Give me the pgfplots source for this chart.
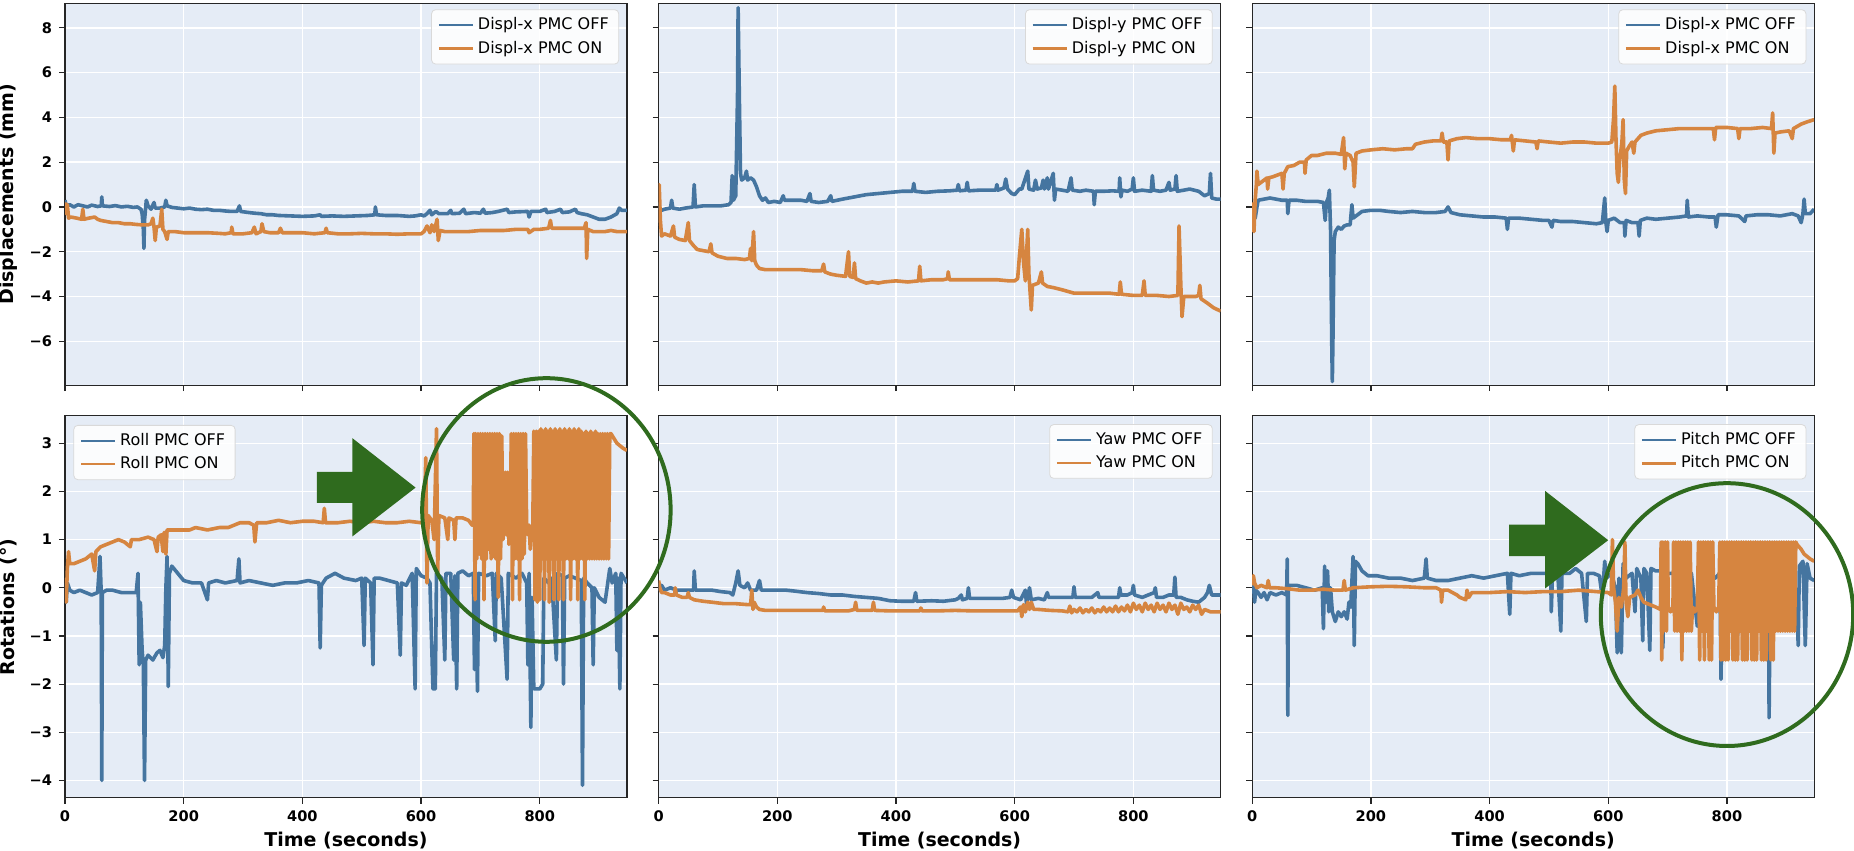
\documentclass[border=0pt]{standalone}
\usepackage{fontspec}
\setmainfont{DejaVu Sans}
\usepackage{pgfplots}
\pgfplotsset{compat=1.18}
\definecolor{cblue}{HTML}{4575A0}
\definecolor{corange}{HTML}{D68540}
\definecolor{cgreen}{HTML}{2F6B1E}
\definecolor{cbg}{HTML}{E5ECF6}
\pgfplotsset{
  base/.style={scale only axis, width=281pt, height=191pt, xmin=0, xmax=947,
    axis background/.style={fill=cbg},
    grid=major, major grid style={white, line width=0.7pt},
    axis line style={black!85, line width=0.6pt},
    tick align=outside, major tick length=3pt, tick style={black!85, line width=0.6pt},
    xtick={0,200,400,600,800}, xtick pos=bottom, ytick pos=left,
    ticklabel style={font=\fontsize{7.3}{8}\selectfont\bfseries},
    label style={font=\fontsize{9.5}{11}\selectfont\bfseries},
    ylabel style={at={(axis description cs:-0.1007,0.5)}, anchor=center},
    xlabel style={at={(axis description cs:0.5,-0.112)}, anchor=center},
    legend style={font=\fontsize{8}{9.5}\selectfont, draw=black!15, fill=white, fill opacity=0.85, text opacity=1, rounded corners=2pt, legend cell align=left, at={(0.986,0.984)}, anchor=north east},
    legend image code/.code={\draw[#1, line width=1.2pt] (0pt,0pt) -- (17pt,0pt);},
    every axis plot/.append style={line join=round, mark=none, line width=1.8pt},
  },
  toprow/.style={base, ymin=-7.96, ymax=9.1, ytick={-6,-4,-2,0,2,4,6,8}, xticklabels={}},
  botrow/.style={base, ymin=-4.36, ymax=3.57, ytick={-4,-3,-2,-1,0,1,2,3}, xticklabels={0,200,400,600,800}, xlabel={Time (seconds)}},
}
\begin{document}
\begin{tikzpicture}
\path[use as bounding box] (0,0) rectangle (927pt,425.5pt);
% ---------------- Top left
\begin{axis}[toprow, at={(32.5pt,232.9pt)}, anchor=south west,
  yticklabels={−6,−4,−2,0,2,4,6,8}, ylabel={Displacements (mm)}]
\addplot[cblue] coordinates {(0,0.3)(2,0.05)(8,0.1)(15,0.0)(22,0.1)(30,0.05)(38,0.0)(45,0.08)(55,0.02)(61,0.05)(62,0.45)(63,0.05)(75,0.02)(85,0.06)(95,0.0)(105,0.03)(115,-0.02)(122,0.0)(128,-0.1)(130,-0.3)(132,-1.0)(133,-1.85)(134,-0.6)(136,0.0)(137,0.3)(140,0.05)(145,-0.1)(150,0.2)(152,-0.05)(160,-0.05)(168,0.0)(170,0.3)(172,0.05)(180,-0.02)(190,-0.05)(200,-0.08)(210,-0.05)(220,-0.1)(230,-0.12)(240,-0.1)(250,-0.15)(260,-0.15)(270,-0.18)(280,-0.2)(290,-0.2)(294,0.05)(296,-0.2)(310,-0.25)(320,-0.28)(330,-0.3)(340,-0.35)(350,-0.35)(360,-0.38)(380,-0.4)(400,-0.42)(420,-0.4)(430,-0.35)(432,-0.42)(450,-0.4)(470,-0.42)(490,-0.4)(510,-0.38)(522,-0.35)(523,0.0)(525,-0.35)(540,-0.38)(560,-0.38)(580,-0.42)(590,-0.4)(600,-0.35)(605,-0.4)(610,-0.3)(615,-0.15)(618,-0.35)(625,-0.2)(630,-0.3)(645,-0.3)(650,-0.15)(652,-0.3)(665,-0.28)(672,-0.1)(675,-0.3)(690,-0.25)(700,-0.28)(705,-0.1)(708,-0.28)(720,-0.25)(730,-0.2)(745,-0.1)(748,-0.25)(760,-0.22)(780,-0.2)(782,-0.45)(785,-0.2)(800,-0.2)(810,-0.1)(812,-0.25)(825,-0.2)(835,-0.1)(838,-0.25)(850,-0.22)(860,-0.1)(863,-0.25)(870,-0.3)(880,-0.35)(890,-0.45)(900,-0.55)(910,-0.55)(920,-0.45)(930,-0.3)(934,-0.05)(938,-0.15)(947,-0.15)};
\addplot[corange] coordinates {(0,0.2)(2,-0.3)(4,0.1)(6,-0.5)(10,-0.45)(20,-0.5)(28,-0.55)(30,-0.1)(32,-0.55)(40,-0.5)(50,-0.45)(55,-0.55)(60,-0.6)(70,-0.65)(80,-0.7)(90,-0.7)(100,-0.75)(110,-0.75)(120,-0.78)(130,-0.8)(140,-0.8)(145,-0.75)(148,-0.5)(150,-0.9)(152,-1.5)(154,-0.9)(160,-0.85)(163,-0.1)(165,-1.0)(168,-1.1)(172,-1.45)(174,-1.1)(185,-1.1)(200,-1.15)(220,-1.15)(240,-1.15)(260,-1.18)(270,-1.2)(280,-1.15)(281,-0.9)(283,-1.2)(300,-1.2)(315,-1.15)(319,-0.9)(322,-1.2)(330,-1.1)(332,-0.75)(335,-1.1)(345,-1.15)(360,-1.15)(363,-0.95)(366,-1.15)(380,-1.15)(400,-1.15)(420,-1.2)(438,-1.15)(440,-0.95)(442,-1.15)(460,-1.2)(480,-1.2)(500,-1.18)(520,-1.2)(540,-1.2)(560,-1.22)(580,-1.2)(600,-1.2)(605,-1.1)(610,-0.85)(615,-1.15)(618,-0.8)(622,-1.1)(627,-0.55)(629,-1.5)(632,-1.05)(640,-1.1)(660,-1.1)(680,-1.1)(700,-1.05)(720,-1.05)(740,-1.05)(760,-1.0)(780,-1.0)(782,-1.15)(790,-1.0)(800,-1.0)(815,-0.95)(818,-0.6)(820,-0.95)(840,-0.95)(860,-0.95)(875,-0.95)(878,-0.7)(879,-2.3)(881,-1.0)(890,-1.1)(900,-1.1)(910,-1.1)(920,-1.05)(930,-1.1)(947,-1.1)};
\legend{Displ-x PMC OFF, Displ-x PMC ON}
\end{axis}
% ---------------- Top middle
\begin{axis}[toprow, at={(329.3pt,232.9pt)}, anchor=south west, yticklabels={}]
\addplot[cblue] coordinates {(0,0.2)(2,-0.05)(5,-0.15)(10,-0.1)(20,-0.05)(22,0.3)(24,-0.05)(35,-0.1)(45,-0.05)(58,0.0)(60,1.0)(62,0.0)(75,0.05)(90,0.05)(105,0.05)(118,0.1)(122,0.2)(124,1.4)(126,0.3)(130,0.5)(133,5.0)(134,8.9)(136,5.0)(138,1.5)(140,1.2)(145,1.3)(148,1.6)(150,1.2)(155,1.3)(160,1.2)(165,0.9)(170,0.5)(175,0.3)(180,0.4)(185,0.2)(195,0.25)(205,0.2)(210,0.5)(212,0.3)(225,0.3)(240,0.3)(250,0.25)(255,0.6)(257,0.25)(270,0.2)(285,0.25)(290,0.5)(292,0.25)(310,0.35)(330,0.45)(350,0.55)(370,0.6)(390,0.65)(410,0.7)(428,0.7)(430,1.05)(432,0.7)(450,0.65)(470,0.7)(490,0.72)(503,0.75)(505,1.0)(507,0.72)(518,0.75)(520,1.1)(522,0.72)(540,0.75)(560,0.75)(568,0.75)(570,1.0)(572,0.75)(582,0.85)(585,1.25)(588,0.8)(595,0.6)(600,0.55)(608,0.8)(612,0.8)(622,1.6)(624,0.8)(632,0.75)(635,1.2)(638,0.8)(645,0.85)(648,1.2)(650,0.8)(655,1.3)(657,0.8)(665,1.5)(667,0.3)(669,0.8)(680,0.75)(690,0.7)(695,1.3)(697,0.75)(710,0.7)(720,0.75)(733,0.7)(734,0.1)(736,0.7)(750,0.7)(765,0.72)(776,0.7)(777,1.3)(779,0.45)(781,0.75)(790,0.7)(798,0.8)(800,1.3)(802,0.7)(815,0.75)(830,0.7)(832,1.4)(834,0.75)(845,0.7)(855,0.75)(860,1.1)(862,0.75)(870,0.8)(872,1.4)(874,0.7)(885,0.75)(895,0.8)(910,0.7)(920,0.5)(928,0.6)(930,1.5)(932,0.4)(940,0.35)(947,0.35)};
\addplot[corange] coordinates {(0,0.0)(1,1.0)(3,-0.6)(5,-1.3)(10,-1.2)(20,-1.3)(25,-0.85)(27,-1.35)(35,-1.45)(45,-1.5)(50,-0.7)(52,-1.5)(58,-1.7)(65,-1.9)(75,-1.95)(85,-2.0)(88,-1.65)(90,-2.05)(100,-2.2)(115,-2.3)(130,-2.3)(145,-2.35)(153,-2.3)(155,-1.85)(157,-2.4)(160,-1.1)(162,-2.4)(165,-2.6)(170,-2.75)(180,-2.8)(200,-2.8)(220,-2.8)(240,-2.8)(260,-2.85)(275,-2.85)(278,-2.55)(280,-2.9)(290,-3.0)(300,-3.05)(315,-3.1)(320,-2.0)(322,-3.1)(328,-3.15)(330,-2.5)(332,-3.2)(340,-3.3)(350,-3.4)(360,-3.35)(370,-3.4)(380,-3.35)(400,-3.3)(420,-3.35)(438,-3.3)(440,-2.65)(442,-3.3)(460,-3.25)(480,-3.25)(487,-3.2)(488,-2.9)(490,-3.25)(510,-3.25)(530,-3.25)(550,-3.25)(570,-3.25)(590,-3.3)(600,-3.3)(605,-3.2)(608,-2.2)(612,-1.0)(615,-2.5)(618,-3.3)(622,-1.0)(624,-3.0)(628,-4.6)(630,-3.5)(640,-3.4)(645,-2.9)(647,-3.4)(655,-3.55)(665,-3.6)(680,-3.7)(700,-3.85)(720,-3.85)(740,-3.85)(760,-3.85)(776,-3.9)(778,-3.35)(780,-3.9)(800,-3.95)(815,-3.95)(818,-3.3)(820,-3.95)(840,-3.95)(860,-4.0)(875,-3.95)(877,-0.85)(880,-3.5)(882,-4.9)(885,-4.0)(895,-4.0)(905,-4.0)(910,-3.95)(912,-3.5)(914,-4.1)(925,-4.3)(935,-4.5)(947,-4.65)};
\legend{Displ-y PMC OFF, Displ-y PMC ON}
\end{axis}
% ---------------- Top right
\begin{axis}[toprow, at={(626.1pt,232.9pt)}, anchor=south west, yticklabels={}]
\addplot[cblue] coordinates {(0,0.1)(2,-0.2)(5,-0.5)(8,0.0)(10,0.3)(20,0.35)(30,0.4)(40,0.35)(50,0.3)(59,0.3)(60,-0.3)(62,0.3)(75,0.3)(90,0.25)(100,0.25)(110,0.25)(120,0.2)(123,-0.6)(125,0.2)(128,0.4)(130,0.75)(132,-1.0)(134,-6.0)(135,-7.8)(136,-6.0)(138,-1.5)(140,-1.1)(145,-0.9)(150,-1.0)(155,-0.85)(160,-0.8)(165,-0.8)(168,0.1)(170,-0.5)(175,-0.4)(185,-0.2)(200,-0.15)(215,-0.15)(230,-0.2)(250,-0.25)(270,-0.2)(290,-0.25)(310,-0.25)(325,-0.2)(330,0.0)(335,-0.25)(350,-0.35)(370,-0.4)(390,-0.45)(410,-0.45)(428,-0.5)(430,-1.0)(432,-0.5)(450,-0.5)(470,-0.55)(490,-0.6)(500,-0.6)(505,-0.9)(507,-0.6)(520,-0.65)(540,-0.65)(560,-0.7)(580,-0.75)(590,-0.7)(594,0.4)(596,-0.7)(598,-1.1)(600,-0.6)(610,-0.5)(620,-0.7)(627,-0.7)(628,-1.3)(630,-0.6)(640,-0.7)(650,-0.7)(652,-1.3)(654,-0.6)(665,-0.5)(680,-0.55)(700,-0.5)(720,-0.45)(732,-0.4)(733,0.3)(735,-0.45)(750,-0.4)(770,-0.45)(780,-0.45)(782,-0.9)(785,-0.35)(800,-0.35)(820,-0.4)(830,-0.65)(832,-0.4)(850,-0.35)(870,-0.35)(890,-0.4)(900,-0.35)(910,-0.3)(920,-0.4)(925,-0.7)(928,-0.3)(930,0.35)(932,-0.3)(940,-0.3)(947,-0.1)};
\addplot[corange] coordinates {(0,0.2)(1,-0.8)(3,-1.1)(5,0.3)(7,1.0)(8,1.6)(10,1.0)(15,1.1)(20,1.2)(25,1.3)(26,0.8)(28,1.3)(35,1.35)(45,1.45)(50,1.5)(52,0.8)(54,1.5)(60,1.8)(70,1.85)(80,2.0)(88,2.0)(89,1.5)(91,2.1)(100,2.3)(110,2.3)(125,2.4)(140,2.4)(150,2.35)(154,3.1)(156,1.7)(158,2.4)(165,2.3)(170,2.0)(172,0.9)(175,2.4)(185,2.5)(200,2.55)(220,2.6)(240,2.55)(260,2.6)(270,2.6)(275,2.8)(290,2.9)(305,2.95)(318,2.95)(320,3.3)(322,2.9)(328,2.9)(330,2.1)(332,2.95)(345,3.05)(360,3.1)(380,3.05)(400,3.05)(420,3.0)(435,3.0)(437,3.2)(440,2.5)(442,3.0)(460,2.95)(478,2.9)(480,2.6)(482,2.95)(500,2.9)(520,2.85)(540,2.9)(560,2.9)(580,2.85)(600,2.85)(606,2.9)(609,4.0)(611,5.4)(613,3.0)(615,1.5)(617,1.1)(619,2.0)(623,2.9)(625,3.9)(627,1.2)(629,0.6)(631,2.5)(635,2.7)(640,2.9)(643,2.4)(645,2.9)(655,3.2)(665,3.3)(680,3.4)(700,3.45)(720,3.5)(740,3.5)(760,3.5)(777,3.5)(779,3.0)(781,3.55)(800,3.55)(818,3.5)(820,3.05)(822,3.5)(840,3.5)(860,3.55)(875,3.5)(877,4.2)(879,2.4)(881,3.3)(890,3.35)(905,3.4)(910,3.05)(912,3.5)(925,3.7)(935,3.8)(947,3.9)};
\legend{Displ-x PMC OFF, Displ-x PMC ON}
\end{axis}
% ---------------- Bottom left (Roll)
\begin{axis}[botrow, at={(32.5pt,26.6pt)}, anchor=south west,
  yticklabels={−4,−3,−2,−1,0,1,2,3}, ylabel={Rotations (°)},
  legend style={at={(0.015,0.976)}, anchor=north west}]
\addplot[cblue] coordinates {(0,0.1)(2,-0.3)(4,0.1)(8,-0.05)(15,-0.1)(25,-0.05)(35,-0.1)(45,-0.15)(55,-0.1)(59,0.65)(61,-0.1)(62,-4.0)(63,-0.1)(70,-0.05)(80,-0.05)(95,-0.1)(110,-0.1)(120,-0.1)(123,0.3)(125,-1.6)(127,-0.3)(130,-1.3)(132,-1.6)(134,-4.0)(136,-1.5)(140,-1.4)(148,-1.5)(155,-1.35)(160,-1.3)(165,-1.45)(168,-1.2)(170,0.0)(172,0.65)(174,-2.05)(176,0.3)(180,0.45)(190,0.3)(200,0.15)(215,0.1)(230,0.1)(240,-0.25)(242,0.1)(255,0.15)(270,0.1)(290,0.15)(293,0.6)(295,0.1)(310,0.15)(330,0.1)(350,0.05)(370,0.1)(390,0.1)(410,0.15)(428,0.1)(430,-1.25)(432,0.05)(440,0.2)(455,0.3)(470,0.2)(490,0.15)(500,0.2)(504,-1.2)(506,0.2)(515,0.1)(519,-1.6)(521,0.2)(530,0.2)(545,0.15)(560,0.1)(565,-1.4)(567,0.1)(575,0.05)(585,0.3)(590,-2.1)(592,0.4)(600,0.25)(610,0.2)(615,0.1)(620,-2.1)(624,-2.1)(626,0.3)(635,0.2)(640,-1.5)(642,0.3)(650,0.3)(655,-1.5)(657,0.25)(660,-2.1)(662,0.3)(670,0.35)(680,0.25)(688,0.3)(690,-1.7)(692,0.1)(695,-2.15)(697,0.3)(710,0.25)(720,0.3)(725,-1.1)(727,0.3)(735,0.2)(745,-1.9)(747,0.3)(760,0.2)(770,0.3)(778,0.1)(780,-1.6)(782,0.3)(785,-2.9)(787,-0.2)(790,-2.1)(795,-2.1)(800,-2.1)(805,-2.0)(807,0.2)(815,0.1)(820,0.2)(828,-1.5)(830,0.3)(838,0.25)(840,-2.0)(842,0.2)(850,0.25)(860,0.2)(870,0.15)(872,-4.1)(874,0.2)(880,0.1)(888,0.0)(890,-1.6)(892,0.0)(900,-0.2)(910,-0.3)(918,0.4)(922,0.1)(928,0.3)(930,-1.3)(932,0.2)(935,-2.1)(937,0.3)(947,0.1)};
\addplot[corange] coordinates {(0,0.2)(2,-0.3)(4,0.4)(6,0.75)(8,0.5)(15,0.5)(25,0.55)(35,0.6)(45,0.7)(50,0.35)(52,0.75)(60,0.85)(70,0.9)(80,0.95)(90,1.0)(100,0.95)(110,0.85)(112,1.0)(125,1.0)(140,1.05)(150,1.0)(155,0.75)(157,1.05)(162,1.1)(165,0.75)(167,1.15)(170,0.7)(172,1.2)(180,1.2)(195,1.2)(210,1.2)(220,1.25)(240,1.2)(260,1.25)(275,1.25)(285,1.3)(295,1.35)(310,1.35)(318,1.3)(320,0.95)(323,1.35)(340,1.35)(360,1.4)(380,1.35)(400,1.38)(420,1.38)(435,1.35)(437,1.65)(439,1.35)(460,1.35)(480,1.38)(500,1.35)(520,1.38)(540,1.35)(560,1.35)(580,1.38)(600,1.35)(605,1.4)(608,2.7)(610,0.1)(612,1.5)(618,1.4)(622,1.0)(626,3.3)(628,0.3)(630,1.5)(640,1.45)(645,1.0)(647,1.45)(655,1.4)(657,1.0)(659,1.45)(670,1.45)(680,1.4)(686,1.3)(688,1.3)(689,3.2)(691,-0.25)(692,3.2)(694,0.6)(696,3.2)(698,0.7)(700,3.2)(702,0.6)(704,3.2)(706,-0.25)(708,3.2)(710,0.6)(712,3.2)(714,0.8)(716,3.2)(718,0.6)(720,3.2)(722,0.65)(724,3.2)(726,0.6)(728,3.2)(730,-0.2)(732,3.2)(734,0.6)(736,3.15)(738,1.0)(740,1.3)(742,2.4)(744,1.1)(746,2.4)(748,0.9)(750,1.2)(752,3.2)(754,-0.25)(756,3.2)(758,0.6)(760,3.2)(762,0.6)(764,3.2)(766,-0.25)(768,3.2)(770,0.6)(772,3.2)(774,0.7)(776,3.2)(778,1.2)(780,1.1)(782,1.3)(784,0.8)(786,1.2)(788,1.0)(790,3.25)(792,-0.25)(794,3.25)(796,-0.3)(798,3.25)(800,-0.25)(802,3.3)(804,0.6)(806,3.25)(808,-0.25)(810,3.3)(812,0.6)(814,3.25)(816,-0.3)(818,3.3)(820,0.6)(822,3.25)(824,-0.25)(826,3.3)(828,0.6)(830,3.25)(832,-0.25)(834,3.3)(836,0.6)(838,3.25)(840,-0.25)(842,3.3)(844,0.6)(846,3.25)(848,0.6)(850,3.3)(852,-0.25)(854,3.25)(856,0.6)(858,3.3)(860,0.6)(862,3.25)(864,-0.25)(866,3.3)(868,0.6)(870,3.25)(872,0.6)(874,3.2)(876,-0.25)(878,3.25)(880,0.6)(882,3.2)(884,0.6)(886,3.25)(888,0.6)(890,3.2)(892,0.6)(894,3.25)(896,0.6)(898,3.2)(900,0.6)(902,3.2)(904,0.6)(906,3.2)(908,0.6)(910,3.2)(912,0.6)(914,3.2)(916,0.6)(918,3.2)(920,3.2)(925,3.1)(930,3.0)(935,2.95)(940,2.9)(947,2.85)};
\legend{Roll PMC OFF, Roll PMC ON}
\end{axis}
% ---------------- Bottom middle (Yaw)
\begin{axis}[botrow, at={(329.3pt,26.6pt)}, anchor=south west, yticklabels={},
  legend style={at={(0.986,0.978)}, anchor=north east}]
\addplot[cblue] coordinates {(0,0.1)(2,-0.05)(5,0.05)(10,-0.05)(20,0.0)(30,-0.05)(40,-0.05)(50,-0.05)(59,-0.05)(60,0.35)(62,-0.05)(75,-0.05)(90,-0.05)(105,-0.08)(120,-0.1)(125,-0.15)(130,0.1)(134,0.35)(137,0.05)(145,0.0)(150,0.1)(155,-0.05)(165,-0.05)(170,0.15)(173,-0.05)(185,-0.05)(200,-0.05)(215,-0.05)(230,-0.07)(250,-0.1)(270,-0.12)(290,-0.15)(310,-0.15)(330,-0.18)(350,-0.2)(370,-0.22)(390,-0.27)(410,-0.28)(430,-0.28)(433,-0.1)(435,-0.28)(460,-0.27)(480,-0.28)(500,-0.25)(505,-0.22)(510,-0.15)(512,-0.25)(520,-0.22)(522,0.0)(524,-0.22)(540,-0.22)(560,-0.22)(580,-0.22)(592,-0.2)(595,-0.05)(598,-0.2)(610,-0.25)(618,-0.05)(620,-0.35)(625,0.0)(628,-0.25)(640,-0.22)(650,-0.25)(655,-0.1)(657,-0.2)(670,-0.2)(685,-0.2)(698,-0.2)(700,0.02)(702,-0.2)(715,-0.2)(730,-0.2)(740,-0.1)(742,-0.2)(755,-0.2)(770,-0.2)(775,-0.2)(777,0.0)(779,-0.15)(790,-0.15)(798,-0.1)(800,0.05)(802,-0.15)(815,-0.2)(825,-0.15)(835,-0.1)(837,0.0)(839,-0.2)(850,-0.2)(860,-0.15)(868,-0.15)(870,0.22)(872,-0.2)(880,-0.2)(890,-0.25)(900,-0.28)(910,-0.3)(920,-0.2)(925,-0.1)(928,0.05)(932,-0.15)(940,-0.15)(947,-0.15)};
\addplot[corange] coordinates {(0,0.15)(2,0.0)(5,-0.1)(10,-0.1)(20,-0.15)(27,-0.15)(28,0.0)(30,-0.15)(40,-0.2)(48,-0.2)(50,-0.1)(52,-0.2)(60,-0.25)(75,-0.28)(90,-0.3)(110,-0.33)(130,-0.33)(150,-0.35)(155,-0.35)(157,-0.05)(159,-0.45)(161,-0.3)(165,-0.4)(170,-0.45)(180,-0.47)(200,-0.47)(230,-0.47)(260,-0.47)(277,-0.47)(278,-0.4)(280,-0.48)(300,-0.48)(320,-0.48)(330,-0.45)(332,-0.3)(334,-0.47)(350,-0.47)(360,-0.47)(362,-0.3)(364,-0.47)(390,-0.48)(420,-0.48)(440,-0.48)(442,-0.42)(444,-0.48)(470,-0.48)(500,-0.47)(530,-0.48)(560,-0.48)(590,-0.48)(605,-0.48)(610,-0.4)(612,-0.6)(615,-0.35)(618,-0.5)(622,-0.3)(625,-0.45)(628,-0.3)(632,-0.45)(640,-0.45)(660,-0.47)(680,-0.48)(690,-0.5)(693,-0.38)(696,-0.52)(700,-0.45)(705,-0.5)(710,-0.42)(715,-0.52)(720,-0.45)(725,-0.5)(730,-0.42)(735,-0.52)(740,-0.45)(745,-0.5)(750,-0.4)(755,-0.5)(760,-0.42)(765,-0.5)(770,-0.38)(775,-0.5)(780,-0.4)(785,-0.48)(790,-0.36)(795,-0.5)(800,-0.32)(805,-0.45)(810,-0.36)(815,-0.5)(820,-0.32)(825,-0.45)(830,-0.36)(835,-0.5)(840,-0.32)(845,-0.45)(850,-0.36)(855,-0.5)(860,-0.32)(865,-0.45)(870,-0.36)(875,-0.55)(880,-0.32)(885,-0.45)(890,-0.4)(895,-0.5)(900,-0.36)(905,-0.45)(910,-0.36)(915,-0.55)(920,-0.45)(930,-0.5)(947,-0.5)};
\legend{Yaw PMC OFF, Yaw PMC ON}
\end{axis}
% ---------------- Bottom right (Pitch)
\begin{axis}[botrow, at={(626.1pt,26.6pt)}, anchor=south west, yticklabels={},
  legend style={at={(0.986,0.978)}, anchor=north east}]
\addplot[cblue] coordinates {(0,-0.1)(2,0.1)(4,-0.3)(6,-0.05)(10,-0.1)(15,-0.2)(20,-0.1)(25,-0.25)(30,-0.1)(40,-0.15)(50,-0.1)(58,-0.15)(59,0.6)(60,-2.65)(61,0.0)(62,0.05)(75,0.05)(90,0.0)(105,-0.05)(118,0.0)(120,-0.85)(122,0.45)(124,-0.3)(127,0.35)(129,-0.5)(132,0.0)(135,-0.5)(140,-0.7)(145,-0.5)(150,-0.6)(155,-0.5)(160,-0.65)(163,-0.3)(166,-0.4)(170,0.65)(172,-1.2)(174,0.55)(178,0.5)(185,0.35)(195,0.25)(210,0.25)(230,0.2)(250,0.2)(270,0.15)(290,0.2)(293,0.6)(295,0.2)(310,0.15)(330,0.15)(350,0.2)(370,0.25)(390,0.2)(410,0.25)(430,0.3)(434,-0.55)(436,0.3)(450,0.25)(470,0.3)(490,0.3)(503,0.3)(504,-0.5)(506,0.35)(515,0.3)(520,-0.9)(522,0.3)(535,0.3)(545,0.4)(555,0.3)(563,-0.7)(565,0.3)(575,0.3)(585,0.25)(590,-0.2)(594,0.55)(597,0.2)(605,0.3)(612,0.0)(615,-1.35)(618,0.2)(622,-1.35)(625,0.5)(630,0.2)(640,0.3)(645,-0.5)(648,0.4)(655,0.2)(658,-1.1)(660,0.4)(665,0.3)(670,-1.3)(672,0.4)(680,0.35)(690,0.35)(692,-1.25)(694,0.4)(700,0.3)(710,0.3)(725,0.25)(740,0.3)(750,-0.8)(752,0.3)(765,0.2)(780,0.2)(788,0.3)(790,-1.9)(792,0.3)(800,0.3)(810,0.2)(818,-1.0)(820,0.3)(835,0.2)(845,0.25)(855,0.3)(860,-0.8)(862,0.3)(870,0.3)(871,-2.7)(873,0.2)(885,0.2)(900,0.2)(910,0.1)(918,-0.3)(920,-1.2)(922,0.45)(928,0.55)(932,-1.2)(935,0.5)(940,0.2)(947,0.15)};
\addplot[corange] coordinates {(0,0.05)(2,0.25)(4,0.1)(8,0.0)(15,0.05)(25,0.0)(27,0.15)(29,0.0)(40,0.0)(60,-0.02)(80,-0.05)(100,-0.05)(120,-0.03)(140,-0.05)(153,-0.05)(155,0.15)(157,-0.05)(170,0.0)(200,0.02)(230,0.03)(260,0.02)(290,0.0)(310,0.0)(318,-0.05)(319,-0.3)(321,-0.05)(330,-0.05)(345,-0.15)(350,-0.2)(360,-0.25)(362,-0.05)(365,-0.2)(370,-0.1)(400,-0.1)(430,-0.08)(460,-0.1)(490,-0.08)(520,-0.08)(550,-0.05)(580,-0.08)(600,-0.1)(605,-0.15)(607,1.0)(609,0.0)(612,-0.3)(615,-0.9)(618,-0.2)(622,-0.4)(626,0.0)(628,0.95)(630,-0.3)(633,-0.6)(636,-0.2)(645,-0.15)(650,-0.05)(655,-0.2)(660,-0.3)(670,-0.35)(680,-0.4)(688,-0.45)(689,0.95)(690,-1.5)(692,0.95)(694,-0.9)(696,0.95)(698,-0.9)(700,0.95)(701,-0.4)(705,-0.5)(709,-0.4)(710,0.95)(712,-0.9)(714,0.95)(716,-0.9)(718,0.95)(720,-0.9)(722,0.95)(724,-1.5)(726,0.95)(728,-0.9)(730,0.95)(732,-0.9)(734,0.95)(736,-0.9)(738,0.95)(740,-0.9)(742,-0.4)(746,-0.5)(750,-0.4)(752,0.95)(754,-1.5)(756,0.95)(758,-0.9)(760,0.95)(762,-1.5)(764,0.95)(766,-0.9)(768,0.95)(770,-1.5)(772,0.95)(774,-1.5)(776,0.95)(778,-0.4)(782,-0.5)(786,-0.4)(788,0.95)(790,-1.5)(792,0.95)(794,-1.5)(796,0.95)(798,-1.5)(800,0.95)(802,-1.5)(804,0.95)(806,-0.9)(808,0.95)(810,-1.5)(812,0.95)(814,-1.5)(816,0.95)(818,-1.5)(820,0.95)(822,-0.9)(824,0.95)(826,-1.5)(828,0.95)(830,-1.5)(832,0.95)(834,-1.5)(836,0.95)(838,-0.9)(840,0.95)(842,-1.5)(844,0.95)(846,-1.5)(848,0.95)(850,-1.5)(852,0.95)(854,-0.9)(856,0.95)(858,-1.5)(860,0.95)(862,-1.5)(864,0.95)(866,-1.5)(868,0.95)(870,-0.9)(872,0.95)(874,-1.5)(876,0.95)(878,-1.5)(880,0.95)(882,-0.9)(884,0.95)(886,-0.9)(888,0.95)(890,-0.9)(892,0.95)(894,-0.9)(896,0.95)(898,-0.9)(900,0.95)(902,-0.9)(904,0.95)(906,-0.9)(908,0.95)(910,-0.9)(912,0.95)(914,-0.9)(916,0.95)(918,0.9)(925,0.8)(930,0.7)(935,0.65)(940,0.6)(947,0.55)};
\legend{Pitch PMC OFF, Pitch PMC ON}
\end{axis}
% ---------------- Annotations
\fill[cgreen] (158.4pt,174.0pt) -- (176.2pt,174.0pt) -- (176.2pt,157.3pt) -- (207.8pt,181.7pt) -- (176.2pt,206.4pt) -- (176.2pt,189.5pt) -- (158.4pt,189.5pt) -- cycle;
\fill[cgreen] (754.5pt,147.4pt) -- (772.6pt,147.4pt) -- (772.6pt,131.3pt) -- (804.1pt,155.4pt) -- (772.6pt,180.0pt) -- (772.6pt,163.2pt) -- (754.5pt,163.2pt) -- cycle;
\draw[cgreen, line width=2pt] (273.2pt,170.5pt) ellipse [x radius=62.1pt, y radius=65.9pt];
\draw[cgreen, line width=2pt] (863.5pt,118.2pt) ellipse [x radius=63.1pt, y radius=65.7pt];
\end{tikzpicture}
\end{document}
